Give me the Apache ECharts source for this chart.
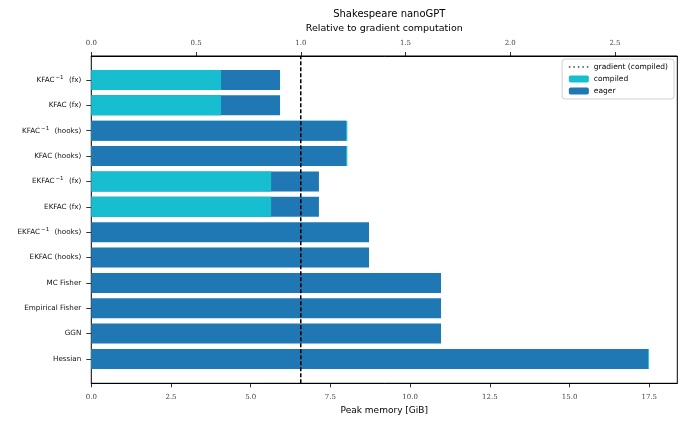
<!DOCTYPE html>
<html>
<head>
<meta charset="utf-8">
<script src="https://cdn.jsdelivr.net/npm/echarts@6/dist/echarts.min.js"></script>
<style>
html,body{margin:0;padding:0;background:#fff;}
#chart{width:686px;height:428px;}
</style>
</head>
<body>
<div id="chart"></div>
<script>
// ---- data ----
const categories = ['KFAC^{-1} (fx)', 'KFAC (fx)', 'KFAC^{-1} (hooks)', 'KFAC (hooks)',
  'EKFAC^{-1} (fx)', 'EKFAC (fx)', 'EKFAC^{-1} (hooks)', 'EKFAC (hooks)',
  'MC Fisher', 'Empirical Fisher', 'GGN', 'Hessian'];
const eagerMem = [5.92, 5.92, 7.99, 7.99, 7.14, 7.14, 8.71, 8.71, 10.97, 10.97, 10.97, 17.46];
const compiledMem = [4.07, 4.07, 8.03, 8.03, 5.64, 5.64, null, null, null, null, null, 17.49];
const gradientCompiled = 6.57;
const memMax = 18.38;
const memTickStep = 2.5;
const relTickStep = 0.5;

// ---- derived (drawing order only) ----
const compiledFront = compiledMem.map((v, i) => (v != null && v < eagerMem[i]) ? v : null);
const compiledBack = compiledMem.map((v, i) => (v != null && v >= eagerMem[i]) ? v : null);

const C_COMPILED = '#17becf';
const C_EAGER = '#1f77b4';
const SANS = '"DejaVu Sans", sans-serif';
const SERIF = '"DejaVu Serif", "Liberation Serif", serif';

const L = 91.3, T = 56, W = 586, H = 327.3;
const step = 25.36;
const firstCenter = 80;

const chart = echarts.init(document.getElementById('chart'), null, {renderer: 'canvas'});

function catLabel(v) {
  return v.replace(/\^\{(.*?)\}/, (m, p) => '{sup|' + p.replace('-', '\u2212') + '}');
}

const tickStyle = {show: true, inside: false, length: 4, lineStyle: {color: '#000', width: 0.8}};

chart.setOption({
  animation: false,
  backgroundColor: '#fff',
  title: {
    text: 'Shakespeare nanoGPT',
    left: L + W / 2, textAlign: 'center', top: 4,
    textStyle: {fontFamily: SANS, fontSize: 10, fontWeight: 'normal', color: '#000'}
  },
  legend: {
    data: [
      {name: 'gradient (compiled)', itemStyle: {opacity: 0},
        lineStyle: {color: '#444', type: [1.5, 3], width: 1.5}},
      'compiled', 'eager'],
    orient: 'vertical',
    right: 12, top: 59,
    itemWidth: 20, itemHeight: 7, itemGap: 4,
    padding: [4, 6, 4, 6],
    backgroundColor: '#fff',
    borderColor: '#d0d0d0', borderWidth: 1, borderRadius: 3,
    textStyle: {fontFamily: SANS, fontSize: 7.5, color: '#000'}
  },
  grid: [
    {left: L, top: T, width: W, height: H, show: true, borderColor: '#000', borderWidth: 1, backgroundColor: 'transparent', containLabel: false},
    {left: L, top: firstCenter - step / 2, width: W, height: step * categories.length, containLabel: false}
  ],
  xAxis: [
    {
      gridIndex: 0, type: 'value', position: 'bottom', min: 0, max: memMax, interval: memTickStep,
      name: 'Peak memory [GiB]', nameLocation: 'middle', nameGap: 23,
      nameTextStyle: {fontFamily: SANS, fontSize: 9, color: '#000'},
      axisLine: {show: true, lineStyle: {color: '#000', width: 1}},
      axisTick: tickStyle,
      axisLabel: {margin: 10, fontFamily: SERIF, fontSize: 7, color: '#444', showMaxLabel: false, formatter: v => v.toFixed(1)},
      splitLine: {show: false}
    },
    {
      gridIndex: 0, type: 'value', position: 'top', min: 0, max: memMax / gradientCompiled, interval: relTickStep,
      name: 'Relative to gradient computation', nameLocation: 'middle', nameGap: 22,
      nameTextStyle: {fontFamily: SANS, fontSize: 9.5, color: '#000'},
      axisLine: {show: true, lineStyle: {color: '#000', width: 1}},
      axisTick: tickStyle,
      axisLabel: {margin: 9, fontFamily: SERIF, fontSize: 7, color: '#444', showMaxLabel: false, formatter: v => v.toFixed(1)},
      splitLine: {show: false}
    },
    {gridIndex: 1, type: 'value', min: 0, max: memMax, show: false}
  ],
  yAxis: [
    {gridIndex: 0, type: 'value', min: 0, max: 1, show: false},
    {
      gridIndex: 1, type: 'category', data: categories, inverse: true,
      axisLine: {show: false},
      axisTick: {show: true, alignWithLabel: true, length: 5, lineStyle: {color: '#000', width: 0.8}},
      axisLabel: {
        margin: 10, fontFamily: SANS, fontSize: 7.2, color: '#111',
        formatter: catLabel,
        rich: {sup: {fontFamily: SANS, fontSize: 5.5, color: '#111', padding: [0, 3, 5, 1]}}
      },
      splitLine: {show: false}
    }
  ],
  series: [
    {name: 'compiled', type: 'bar', xAxisIndex: 2, yAxisIndex: 1, data: compiledBack,
      barWidth: 20, barGap: '-100%', itemStyle: {color: C_COMPILED}},
    {name: 'eager', type: 'bar', xAxisIndex: 2, yAxisIndex: 1, data: eagerMem,
      barWidth: 20, barGap: '-100%', itemStyle: {color: C_EAGER}},
    {name: 'compiled', type: 'bar', xAxisIndex: 2, yAxisIndex: 1, data: compiledFront,
      barWidth: 20, barGap: '-100%', itemStyle: {color: C_COMPILED}},
    {name: 'gradient (compiled)', type: 'line', xAxisIndex: 0, yAxisIndex: 0,
      data: [[gradientCompiled, 0], [gradientCompiled, 1]],
      symbol: 'none', z: 10,
      itemStyle: {color: '#333'},
      lineStyle: {color: '#000', width: 1.5, type: [4, 2]}}
  ]
});
</script>
</body>
</html>
